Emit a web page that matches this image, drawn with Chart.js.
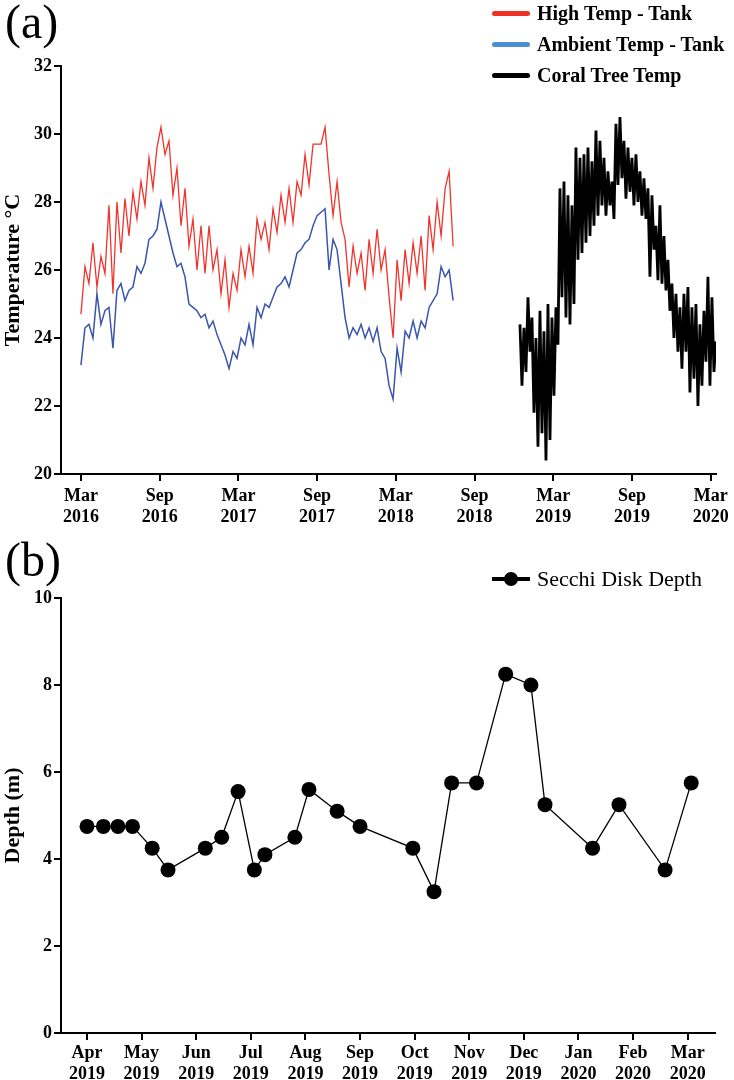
<!DOCTYPE html>
<html>
<head>
<meta charset="utf-8">
<script src="https://cdn.jsdelivr.net/npm/chart.js@4.4.1/dist/chart.umd.min.js"></script>
<style>
    body { margin: 0; background: #fff; }
    #wrap { position: relative; width: 734px; height: 1080px; font-family: "Liberation Serif", "Times New Roman", serif; color: #000; }
    canvas { position: absolute; left: 0; }
    .tag { position: absolute; left: 5px; font-size: 48px; line-height: 48px; }
    .legend { position: absolute; left: 492px; }
    .row { position: relative; height: 31px; display: flex; align-items: center; }
    .swatch { width: 38px; height: 5px; border-radius: 3px; margin-right: 7px; position: relative; }
    .dot { position: absolute; left: 12px; top: -5px; width: 14px; height: 14px; border-radius: 50%; background: #000; }
</style>
</head>
<body>
<div id="wrap">
    <canvas id="tempCanvas" width="734" height="530" style="top:0"></canvas>
    <canvas id="depthCanvas" width="734" height="550" style="top:530px"></canvas>
    <div class="tag" style="top:-2px">(a)</div>
    <div class="tag" style="top:536px">(b)</div>
    <div class="legend" id="tempLegend" style="top:-2px; font-weight:bold; font-size:20px;"></div>
    <div class="legend" id="depthLegend" style="top:563px; font-size:22px;"></div>
</div>
<script>
// ---- panel (a): temperatures, x in months counted from Jan 1 2016 ----
let tankStart = 2;        // Mar 2016
let tankStep = 0.305;     // roughly every 9 days
let highTemp = [
    24.7, 26.1, 25.6, 26.8, 25.5, 26.4, 25.9, 27.9, 25.3, 28.0,
    26.5, 28.1, 27.0, 28.3, 27.5, 28.6, 27.9, 29.3, 28.4, 29.6,
    30.2, 29.4, 29.8, 28.2, 29.0, 27.3, 28.4, 26.7, 27.5, 26.0,
    27.3, 25.9, 27.3, 26.0, 26.6, 25.3, 26.3, 24.9, 25.9, 25.4,
    26.6, 25.8, 26.7, 25.9, 27.5, 26.9, 27.4, 26.6, 27.8, 27.1,
    28.2, 27.4, 28.4, 27.4, 28.6, 28.2, 29.4, 28.5, 29.7, 29.7,
    29.7, 30.2, 28.8, 27.6, 28.6, 27.4, 26.9, 25.5, 26.7, 25.9,
    26.5, 25.4, 26.9, 25.9, 27.2, 26.0, 26.6, 25.2, 24.0, 26.3,
    25.1, 26.6, 25.6, 26.8, 25.9, 27.0, 25.4, 27.6, 26.6, 28.0,
    27.0, 28.4, 28.9, 26.7
];
let ambientTemp = [
    23.2, 24.3, 24.4, 24.0, 25.3, 24.4, 24.8, 24.9, 23.7, 25.4,
    25.6, 25.1, 25.4, 25.5, 26.1, 25.9, 26.2, 26.9, 27.0, 27.2,
    28.0, 27.5, 27.0, 26.5, 26.1, 26.2, 25.8, 25.0, 24.9, 24.8,
    24.6, 24.7, 24.3, 24.5, 24.1, 23.8, 23.5, 23.1, 23.6, 23.4,
    24.0, 23.8, 24.4, 23.8, 24.9, 24.6, 25.0, 24.9, 25.2, 25.5,
    25.6, 25.8, 25.5, 26.0, 26.5, 26.6, 26.8, 26.9, 27.3, 27.6,
    27.7, 27.8, 26.0, 26.9, 26.6, 25.6, 24.6, 24.0, 24.3, 24.1,
    24.4, 24.0, 24.3, 23.9, 24.3, 23.6, 23.4, 22.6, 22.2, 23.7,
    23.0, 24.2, 24.0, 24.5, 24.0, 24.5, 24.3, 24.9, 25.1, 25.3,
    26.1, 25.8, 26.0, 25.1
];
let coralStart = 35.46;   // mid Dec 2018
let coralStep = 0.1524;   // daily highs and lows, alternating
let coralTemp = [
    24.4, 22.6, 24.3, 23.0, 25.2, 23.6, 24.6, 21.8, 24.0, 20.8,
    24.8, 21.2, 24.2, 20.4, 25.0, 21.0, 24.6, 22.3, 24.9, 23.8,
    28.4, 25.2, 28.6, 24.6, 28.2, 24.4, 27.9, 25.0, 29.6, 26.3,
    29.3, 26.5, 29.4, 26.8, 29.6, 27.0, 29.2, 27.3, 30.1, 27.6,
    29.8, 27.9, 29.3, 27.6, 28.9, 27.9, 28.6, 27.5, 30.3, 28.5,
    30.5, 28.7, 29.8, 28.1, 29.6, 28.3, 29.3, 27.9, 29.4, 28.0,
    28.9, 27.6, 28.7, 27.5, 28.4, 25.8, 28.2, 26.6, 27.3, 25.7,
    27.9, 25.6, 27.0, 25.4, 26.3, 24.8, 25.6, 24.0, 25.3, 23.6,
    24.9, 23.1, 25.3, 23.6, 25.5, 22.4, 24.9, 22.8, 25.0, 22.0,
    24.4, 22.6, 24.8, 23.3, 25.8, 22.6, 25.2, 23.0, 23.9
];
let tempTickMonths = [2, 8, 14, 20, 26, 32, 38, 44, 50];
let tempTickLabels = [
    ['Mar', '2016'], ['Sep', '2016'], ['Mar', '2017'], ['Sep', '2017'], ['Mar', '2018'],
    ['Sep', '2018'], ['Mar', '2019'], ['Sep', '2019'], ['Mar', '2020']
];

// ---- panel (b): Secchi disk depth ----
let secchiDates = [
    '2019-04-01', '2019-04-10', '2019-04-18', '2019-04-26', '2019-05-07', '2019-05-16',
    '2019-06-06', '2019-06-15', '2019-06-24', '2019-07-03', '2019-07-09', '2019-07-26',
    '2019-08-03', '2019-08-19', '2019-09-01', '2019-09-30', '2019-10-12', '2019-10-22',
    '2019-11-05', '2019-11-21', '2019-12-05', '2019-12-13', '2020-01-09', '2020-01-24',
    '2020-02-18', '2020-03-03'
];
let secchiDepth = [
    4.75, 4.75, 4.75, 4.75, 4.25, 3.75, 4.25, 4.5, 5.55, 3.75, 4.1, 4.5, 5.6,
    5.1, 4.75, 4.25, 3.25, 5.75, 5.75, 8.25, 8.0, 5.25, 4.25, 5.25, 3.75, 5.75
];
let depthTickLabels = [
    ['Apr', '2019'], ['May', '2019'], ['Jun', '2019'], ['Jul', '2019'], ['Aug', '2019'], ['Sep', '2019'],
    ['Oct', '2019'], ['Nov', '2019'], ['Dec', '2019'], ['Jan', '2020'], ['Feb', '2020'], ['Mar', '2020']
];

let serif = '"Liberation Serif", "Times New Roman", serif';
let tickFont = { family: serif, size: 18, weight: 'bold', lineHeight: 1.15 };
let titleFont = { family: serif, size: 22, weight: 'bold' };

function toSeries(start, step, values) {
    return values.map((v, i) => ({ x: start + i * step, y: v }));
}

// months after Apr 1 2019
function monthsFromApr2019(s) {
    let [y, m, d] = s.split('-').map(Number);
    let days = new Date(y, m, 0).getDate();
    return (y - 2019) * 12 + (m - 4) + (d - 1) / days;
}

function axisLines() {
    return {
        grid: { drawOnChartArea: false, drawTicks: true, tickLength: 7, color: '#000', lineWidth: 2 },
        border: { color: '#000', width: 2 }
    };
}

function buildLegend(id, chart, withDot) {
    let box = document.getElementById(id);
    chart.data.datasets.forEach(ds => {
        let row = document.createElement('div');
        row.className = 'row';
        let sw = document.createElement('span');
        sw.className = 'swatch';
        sw.style.background = ds.backgroundColor;
        if (withDot) {
            sw.style.height = '4px';
            sw.style.borderRadius = '0';
            let dot = document.createElement('span');
            dot.className = 'dot';
            sw.appendChild(dot);
        }
        let txt = document.createElement('span');
        txt.textContent = ds.label;
        row.appendChild(sw);
        row.appendChild(txt);
        box.appendChild(row);
    });
}

let tempChart = new Chart(document.getElementById('tempCanvas'), {
    type: 'line',
    data: {
        datasets: [{
            label: 'High Temp - Tank',
            data: toSeries(tankStart, tankStep, highTemp),
            borderColor: '#f0332b',
            backgroundColor: '#ee3124',
            borderWidth: 1.3
        }, {
            label: 'Ambient Temp - Tank',
            data: toSeries(tankStart, tankStep, ambientTemp),
            borderColor: '#3a55ad',
            backgroundColor: '#4a8fd4',
            borderWidth: 1.5
        }, {
            label: 'Coral Tree Temp',
            data: toSeries(coralStart, coralStep, coralTemp),
            borderColor: '#000',
            backgroundColor: '#000',
            borderWidth: 2.8
        }]
    },
    options: {
        responsive: false,
        animation: false,
        elements: { point: { radius: 0 }, line: { tension: 0 } },
        layout: { padding: { top: 66, right: 18, left: 0, bottom: 0 } },
        plugins: { legend: { display: false }, tooltip: { enabled: false } },
        scales: {
            x: {
                type: 'linear', min: 0.48, max: 50.4,
                afterBuildTicks: s => { s.ticks = tempTickMonths.map(v => ({ value: v })); },
                afterFit: s => { s.height = 56; },
                ticks: { autoSkip: false, maxRotation: 0, font: tickFont, color: '#000', padding: 5,
                         callback: (v, i) => tempTickLabels[i] },
                ...axisLines()
            },
            y: {
                min: 20, max: 32,
                afterFit: s => { s.width = 61; },
                ticks: { stepSize: 2, font: tickFont, color: '#000', padding: 2 },
                title: { display: true, text: 'Temperature °C', font: titleFont, color: '#000', padding: 0 },
                ...axisLines()
            }
        }
    }
});

let depthChart = new Chart(document.getElementById('depthCanvas'), {
    type: 'line',
    data: {
        datasets: [{
            label: 'Secchi Disk Depth',
            data: secchiDates.map((d, i) => ({ x: monthsFromApr2019(d), y: secchiDepth[i] })),
            borderColor: '#000',
            backgroundColor: '#000',
            borderWidth: 1.3,
            pointRadius: 7.5,
            pointBackgroundColor: '#000',
            pointBorderWidth: 0
        }]
    },
    options: {
        responsive: false,
        animation: false,
        elements: { line: { tension: 0 } },
        layout: { padding: { top: 68, right: 19, left: 0, bottom: 0 } },
        plugins: { legend: { display: false }, tooltip: { enabled: false } },
        scales: {
            x: {
                type: 'linear', min: -0.476, max: 11.5,
                afterBuildTicks: s => { s.ticks = depthTickLabels.map((l, i) => ({ value: i })); },
                afterFit: s => { s.height = 47; },
                ticks: { autoSkip: false, maxRotation: 0, font: tickFont, color: '#000', padding: 3,
                         callback: (v, i) => depthTickLabels[i] },
                ...axisLines()
            },
            y: {
                min: 0, max: 10,
                afterFit: s => { s.width = 61; },
                ticks: { stepSize: 2, font: tickFont, color: '#000', padding: 2 },
                title: { display: true, text: 'Depth (m)', font: titleFont, color: '#000', padding: 0 },
                ...axisLines()
            }
        }
    }
});

buildLegend('tempLegend', tempChart, false);
buildLegend('depthLegend', depthChart, true);
</script>
</body>
</html>
